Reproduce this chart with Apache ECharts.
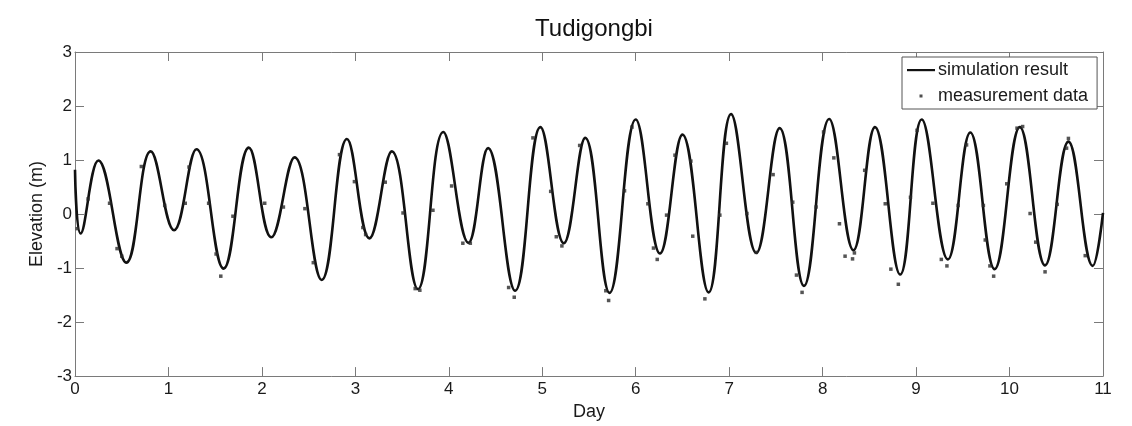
<!DOCTYPE html>
<html>
<head>
<meta charset="utf-8">
<script src="https://cdn.jsdelivr.net/npm/echarts@6/dist/echarts.min.js"></script>
<style>
html,body{margin:0;padding:0;background:#fff;}
#chart{width:1132px;height:426px;}
</style>
</head>
<body>
<div id="chart"></div>
<script>
// Simulation result: turning points of the curve (day, elevation m)
const simDays = [0, 0.06, 0.25, 0.55, 0.81, 1.06, 1.30, 1.59, 1.86, 2.10, 2.35, 2.64, 2.91, 3.15, 3.39, 3.67, 3.94, 4.21, 4.42, 4.71, 4.98, 5.23, 5.46, 5.72, 6.00, 6.26, 6.50, 6.78, 7.02, 7.29, 7.54, 7.80, 8.07, 8.33, 8.56, 8.83, 9.06, 9.34, 9.58, 9.84, 10.11, 10.38, 10.63, 10.89, 11.0];
const simElev = [0.82, -0.36, 0.99, -0.90, 1.16, -0.30, 1.20, -1.01, 1.23, -0.43, 1.05, -1.22, 1.39, -0.45, 1.16, -1.39, 1.52, -0.53, 1.22, -1.42, 1.61, -0.54, 1.41, -1.46, 1.75, -0.73, 1.47, -1.45, 1.85, -0.72, 1.59, -1.33, 1.76, -0.67, 1.61, -1.12, 1.75, -0.84, 1.51, -1.02, 1.61, -0.95, 1.34, -0.96, 0.02];

// Measurement data (day, elevation m)
const measDays = [0.025, 0.14, 0.37, 0.45, 0.50, 0.71, 0.96, 1.18, 1.22, 1.43, 1.51, 1.56, 1.69, 2.03, 2.23, 2.46, 2.55, 2.83, 2.99, 3.08, 3.11, 3.32, 3.51, 3.64, 3.69, 3.83, 4.03, 4.15, 4.23, 4.64, 4.70, 4.90, 5.09, 5.15, 5.21, 5.40, 5.68, 5.71, 5.88, 5.96, 6.13, 6.19, 6.23, 6.33, 6.42, 6.59, 6.61, 6.74, 6.90, 6.97, 7.19, 7.29, 7.47, 7.68, 7.72, 7.78, 7.93, 8.01, 8.12, 8.18, 8.24, 8.32, 8.34, 8.45, 8.67, 8.73, 8.81, 8.94, 9.01, 9.18, 9.27, 9.33, 9.45, 9.54, 9.72, 9.74, 9.79, 9.83, 9.97, 10.08, 10.14, 10.22, 10.28, 10.38, 10.51, 10.61, 10.63, 10.81];
const measElev = [-0.27, 0.28, 0.20, -0.64, -0.78, 0.88, 0.16, 0.20, 0.87, 0.20, -0.74, -1.15, -0.04, 0.20, 0.13, 0.10, -0.90, 1.10, 0.60, -0.25, -0.38, 0.59, 0.02, -1.38, -1.41, 0.07, 0.52, -0.54, -0.54, -1.36, -1.54, 1.41, 0.42, -0.42, -0.59, 1.27, -1.42, -1.60, 0.43, 1.61, 0.19, -0.63, -0.84, -0.02, 1.09, 0.98, -0.41, -1.57, -0.02, 1.31, 0.01, -0.71, 0.73, 0.22, -1.13, -1.45, 0.13, 1.52, 1.04, -0.18, -0.78, -0.83, -0.72, 0.81, 0.19, -1.02, -1.30, 0.31, 1.55, 0.20, -0.84, -0.96, 0.16, 1.28, 0.16, -0.48, -0.96, -1.15, 0.56, 1.59, 1.62, 0.01, -0.52, -1.07, 0.18, 1.22, 1.40, -0.77];

const xTicks = {min: 0, max: 11, interval: 1};
const yTicks = {min: -3, max: 3, interval: 1};

const titleText = 'Tudigongbi';
const xName = 'Day';
const yName = 'Elevation (m)';
const simName = 'simulation result';
const measName = 'measurement data';

const simData = simDays.map((d, i) => [d, simElev[i]]);
const measData = measDays.map((d, i) => [d, measElev[i]]);

const font = 'Liberation Sans, Arial, sans-serif';
const axisGray = '#7a7a7a';
const textColor = '#1a1a1a';

const chart = echarts.init(document.getElementById('chart'), null, {renderer: 'canvas'});

const baseAxis = {
  axisLine: {show: true, onZero: false, lineStyle: {color: axisGray, width: 1}},
  axisTick: {show: true, inside: true, length: 9, lineStyle: {color: axisGray, width: 1}},
  splitLine: {show: false}
};

chart.setOption({
  animation: false,
  backgroundColor: '#ffffff',
  title: {
    text: titleText,
    left: 589,
    textAlign: 'center',
    top: 12,
    textStyle: {fontFamily: font, fontSize: 24, fontWeight: 'normal', color: '#111'}
  },
  grid: {left: 75, right: 29, top: 52, bottom: 44, containLabel: false},
  legend: {
    orient: 'vertical',
    left: 902,
    top: 57,
    padding: [4, 9, 4, 5],
    itemGap: 8,
    itemWidth: 28,
    itemHeight: 14,
    borderColor: '#555',
    borderWidth: 1,
    backgroundColor: '#fff',
    textStyle: {fontFamily: font, fontSize: 18, color: textColor, padding: [0, 0, 0, -2]},
    data: [
      {name: simName, icon: 'path://M0,0M28,14M0,6L28,6L28,8.2L0,8.2Z', itemStyle: {color: '#111'}},
      {name: measName, icon: 'path://M0,0M28,14M12.5,5.5L15.5,5.5L15.5,8.5L12.5,8.5Z', itemStyle: {color: '#222'}}
    ]
  },
  xAxis: [
    Object.assign({}, baseAxis, {
      type: 'value', position: 'bottom',
      min: xTicks.min, max: xTicks.max, interval: xTicks.interval,
      name: xName, nameLocation: 'middle', nameGap: 21,
      nameTextStyle: {fontFamily: font, fontSize: 18, color: textColor},
      axisLabel: {fontFamily: font, fontSize: 17, color: textColor, margin: 5}
    }),
    Object.assign({}, baseAxis, {
      type: 'value', position: 'top',
      min: xTicks.min, max: xTicks.max, interval: xTicks.interval,
      axisLabel: {show: false}
    })
  ],
  yAxis: [
    Object.assign({}, baseAxis, {
      type: 'value', position: 'left',
      min: yTicks.min, max: yTicks.max, interval: yTicks.interval,
      name: yName, nameLocation: 'middle', nameGap: 19,
      nameTextStyle: {fontFamily: font, fontSize: 18, color: textColor},
      axisLabel: {fontFamily: font, fontSize: 17, color: textColor, margin: 3}
    }),
    Object.assign({}, baseAxis, {
      type: 'value', position: 'right',
      min: yTicks.min, max: yTicks.max, interval: yTicks.interval,
      axisLabel: {show: false}
    })
  ],
  series: [
    {
      name: simName,
      type: 'line',
      xAxisIndex: 0, yAxisIndex: 0,
      data: simData,
      smooth: 0.42,
      showSymbol: false,
      symbol: 'none',
      lineStyle: {color: '#111', width: 2.6},
      itemStyle: {color: '#111'},
      z: 2
    },
    {
      name: measName,
      type: 'scatter',
      xAxisIndex: 0, yAxisIndex: 0,
      data: measData,
      symbol: 'rect',
      symbolSize: 3.5,
      itemStyle: {color: '#2a2a2a'},
      z: 3
    }
  ]
});
</script>
</body>
</html>
